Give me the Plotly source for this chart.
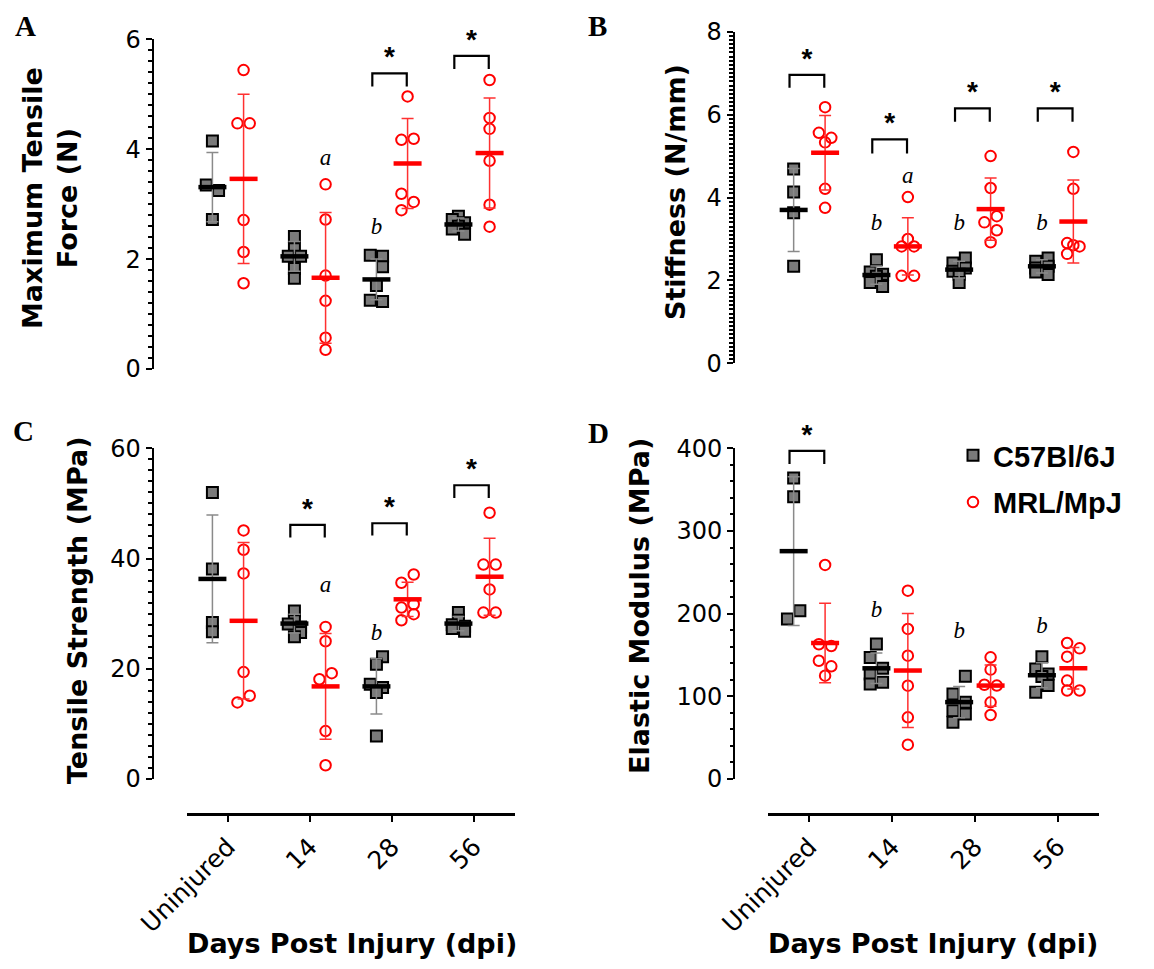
import plotly.graph_objects as go

W, H = 1154, 969          # target picture size (px)
PAGE_PAD = 8              # default HTML body margin

CATS = ["Uninjured", "14", "28", "56"]

# ---------------- Panel A: Maximum Tensile Force (N) ----------------
A_c57 = [[4.15, 3.35, 3.25, 2.72], [2.41, 2.19, 2.05, 2.05, 1.83, 1.65],
         [2.07, 2.05, 1.86, 1.52, 1.25, 1.23], [2.78, 2.72, 2.66, 2.60, 2.55, 2.45]]
A_c57_j = [[0, -1, 1, 0], [0, 0, -1, 1, 0, 0], [-1, 1, 1, 0, -1, 1], [0, -1, 1, 0, -1, 1]]
A_c57_mean = [3.31, 2.05, 1.63, 2.63]
A_c57_sd = [0.63, 0.27, 0.37, 0.12]
A_mrl = [[5.44, 4.47, 4.47, 2.71, 2.13, 1.56], [3.36, 2.72, 1.70, 1.24, 0.57, 0.35],
         [4.96, 4.17, 4.19, 3.19, 3.04, 2.89], [5.26, 4.57, 4.37, 3.79, 2.99, 2.59]]
A_mrl_j = [[0, -1, 1, 0, 0, 0], [0, 0, 0, 0, 0, 0], [0, -1, 1, -1, 1, -1], [0, 0, 0, 0, 0, 0]]
A_mrl_mean = [3.46, 1.66, 3.74, 3.93]
A_mrl_sd = [1.54, 1.19, 0.82, 1.00]
A_brk_cat = [2, 3]
A_brk_top = [5.38, 5.70]
A_brk_leg = [5.14, 5.46]
A_a_cat, A_a_y = [1], [3.81]
A_b_cat, A_b_y = [2], [2.57]

# ---------------- Panel B: Stiffness (N/mm) ----------------
B_c57 = [[4.69, 4.13, 3.63, 2.34], [2.50, 2.20, 2.15, 2.10, 1.95, 1.85],
         [2.54, 2.42, 2.30, 2.22, 2.15, 1.95], [2.54, 2.46, 2.34, 2.30, 2.20, 2.14]]
B_c57_j = [[0, 0, 0, 0], [0, -1, 1, 0, -1, 1], [1, -1, 1, -1, 0, 0], [1, -1, 1, -1, -1, 1]]
B_c57_mean = [3.70, 2.13, 2.26, 2.34]
B_c57_sd = [1.00, 0.22, 0.20, 0.16]
B_mrl = [[6.18, 5.56, 5.44, 5.33, 4.21, 3.75], [4.01, 3.00, 2.82, 2.82, 2.11, 2.11],
         [5.00, 4.23, 3.55, 3.40, 3.21, 2.92], [5.10, 4.21, 2.90, 2.85, 2.82, 2.64]]
B_mrl_j = [[0, -1, 1, 0, 0, 0], [0, 0, -1, 1, -1, 1], [0, 0, 1, -1, 1, 0], [0, 0, -1, 0, 1, -1]]
B_mrl_mean = [5.08, 2.82, 3.72, 3.42]
B_mrl_sd = [0.90, 0.69, 0.75, 1.00]
B_brk_cat = [0, 1, 2, 3]
B_brk_top = [6.96, 5.40, 6.15, 6.15]
B_brk_leg = [6.65, 5.06, 5.83, 5.83]
B_a_cat, B_a_y = [1], [4.50]
B_b_cat, B_b_y = [1, 2, 3], [3.36, 3.36, 3.36]

# ---------------- Panel C: Tensile Strength (MPa) ----------------
C_c57 = [[52.0, 38.1, 28.4, 26.7], [30.5, 28.7, 28.1, 27.6, 26.6, 25.8],
         [22.2, 20.8, 17.2, 16.6, 15.7, 7.8], [30.2, 28.8, 28.0, 27.7, 27.3, 26.8]]
C_c57_j = [[0, 0, 0, 0], [0, 0, -1, 1, 1, 0], [1, 0, -1, 1, 0, 0], [0, 0, -1, 1, -1, 1]]
C_c57_mean = [36.3, 28.2, 16.8, 28.2]
C_c57_sd = [11.6, 1.7, 5.0, 1.3]
C_mrl = [[45.1, 41.6, 37.3, 19.4, 15.1, 13.9], [27.6, 25.0, 19.2, 18.1, 8.7, 2.5],
         [37.1, 35.6, 31.7, 31.1, 29.9, 28.8], [48.3, 38.9, 38.9, 34.4, 30.2, 30.2]]
C_mrl_j = [[0, 0, 0, 0, 1, -1], [0, 0, 1, -1, 0, 0], [1, -1, 1, -1, 1, -1], [0, -1, 1, 0, -1, 1]]
C_mrl_mean = [28.7, 16.8, 32.6, 36.7]
C_mrl_sd = [14.2, 9.6, 3.1, 7.0]
C_brk_cat = [1, 2, 3]
C_brk_top = [46.1, 46.4, 53.3]
C_brk_leg = [43.8, 44.2, 51.0]
C_a_cat, C_a_y = [1], [34.9]
C_b_cat, C_b_y = [2], [26.2]

# ---------------- Panel D: Elastic Modulus (MPa) ----------------
D_c57 = [[364.0, 341.5, 203.6, 193.5], [163.3, 147.0, 134.0, 127.0, 117.0, 115.0],
         [124.2, 102.8, 92.7, 82.7, 78.6, 68.5], [148.0, 133.0, 127.0, 124.0, 113.0, 105.0]]
D_c57_j = [[0, 0, 1, -1], [0, -1, 1, -1, 1, -1], [1, -1, 1, -1, 1, -1], [0, -1, 1, 0, 1, -1]]
D_c57_mean = [275.6, 133.9, 93.0, 125.5]
D_c57_sd = [90.0, 18.5, 19.0, 15.0]
D_mrl = [[258.9, 163.0, 160.8, 143.0, 136.3, 125.0], [227.8, 181.5, 149.2, 112.9, 74.6, 41.5],
         [147.2, 132.3, 114.0, 113.0, 92.7, 77.4], [164.5, 158.0, 148.0, 119.0, 107.0, 107.0]]
D_mrl_j = [[0, -1, 1, -1, 1, 0], [0, 0, 0, 0, 0, 0], [0, 0, -1, 1, 0, 0], [-1, 1, -1, -1, -1, 1]]
D_mrl_mean = [164.5, 131.2, 113.0, 134.0]
D_mrl_sd = [48.0, 69.0, 25.0, 25.0]
D_brk_cat = [0]
D_brk_top = [397.0]
D_brk_leg = [381.0]
D_a_cat, D_a_y = [], []
D_b_cat, D_b_y = [1, 2, 3], [202.8, 177.4, 183.5]

# ---------------- styling / layout constants ----------------
OFF = 0.19      # group offset from category center
JIT = 0.075     # jitter step
GREY = "#7a7a7a"
RED = "#ff0000"
NUM_FONT = "DejaVu Sans"
BOLD_FONT = "DejaVu Sans"

FW, FH = W - 2 * PAGE_PAD, H - 2 * PAGE_PAD


def px(v):
    return (v - PAGE_PAD) / FW


def py(v):
    return 1 - (v - PAGE_PAD) / FH


panels = [
    dict(key="A", ax="", c57=A_c57, c57j=A_c57_j, c57m=A_c57_mean, c57s=A_c57_sd,
         mrl=A_mrl, mrlj=A_mrl_j, mrlm=A_mrl_mean, mrls=A_mrl_sd,
         bc=A_brk_cat, bt=A_brk_top, bl=A_brk_leg, ac=A_a_cat, ay=A_a_y, bcc=A_b_cat, by=A_b_y,
         xdom=(187, 515), ydom=(369.0, 39.3), yline=152.7, ymax=6, dtick=2, minor=0.2, showx=False),
    dict(key="B", ax="2", c57=B_c57, c57j=B_c57_j, c57m=B_c57_mean, c57s=B_c57_sd,
         mrl=B_mrl, mrlj=B_mrl_j, mrlm=B_mrl_mean, mrls=B_mrl_sd,
         bc=B_brk_cat, bt=B_brk_top, bl=B_brk_leg, ac=B_a_cat, ay=B_a_y, bcc=B_b_cat, by=B_b_y,
         xdom=(768, 1099), ydom=(363.3, 31.7), yline=733.5, ymax=8, dtick=2, minor=0.1, showx=False),
    dict(key="C", ax="3", c57=C_c57, c57j=C_c57_j, c57m=C_c57_mean, c57s=C_c57_sd,
         mrl=C_mrl, mrlj=C_mrl_j, mrlm=C_mrl_mean, mrls=C_mrl_sd,
         bc=C_brk_cat, bt=C_brk_top, bl=C_brk_leg, ac=C_a_cat, ay=C_a_y, bcc=C_b_cat, by=C_b_y,
         xdom=(187, 515), ydom=(779.0, 448.3), yline=152.7, ymax=60, dtick=20, minor=2, showx=True),
    dict(key="D", ax="4", c57=D_c57, c57j=D_c57_j, c57m=D_c57_mean, c57s=D_c57_sd,
         mrl=D_mrl, mrlj=D_mrl_j, mrlm=D_mrl_mean, mrls=D_mrl_sd,
         bc=D_brk_cat, bt=D_brk_top, bl=D_brk_leg, ac=D_a_cat, ay=D_a_y, bcc=D_b_cat, by=D_b_y,
         xdom=(768, 1099), ydom=(779.0, 448.3), yline=734.0, ymax=400, dtick=100, minor=20, showx=True),
]

fig = go.Figure()
layout = dict(template="none", width=FW, height=FH,
              margin=dict(l=0, r=0, t=0, b=0, pad=0, autoexpand=False),
              paper_bgcolor="white", plot_bgcolor="white", showlegend=True)

for p in panels:
    xa, ya = "x" + p["ax"], "y" + p["ax"]
    # points
    for vals, jit, sign, name, is_c57 in [(p["c57"], p["c57j"], -1, "C57Bl/6J", True),
                                          (p["mrl"], p["mrlj"], 1, "MRL/MpJ", False)]:
        xs, ys = [], []
        for ci, (grp, jg) in enumerate(zip(vals, jit)):
            for v, j in zip(grp, jg):
                xs.append(ci + sign * OFF + j * JIT)
                ys.append(v)
        if is_c57:
            marker = dict(symbol="square", size=11, color=GREY, line=dict(color="black", width=2))
        else:
            marker = dict(symbol="circle-open", size=10.5, color=RED, line=dict(width=2))
        fig.add_trace(go.Scatter(x=xs, y=ys, mode="markers", marker=marker, name=name,
                                 legendgroup=name, showlegend=(p["key"] == "D"),
                                 xaxis=xa, yaxis=ya, cliponaxis=False))
    # mean + SD
    for means, sds, sign, lc, ec in [(p["c57m"], p["c57s"], -1, "black", "#8a8a8a"),
                                     (p["mrlm"], p["mrls"], 1, RED, "#ff3030")]:
        fig.add_trace(go.Scatter(
            x=[ci + sign * OFF for ci in range(len(means))], y=means, mode="markers",
            marker=dict(symbol="line-ew", size=20, line=dict(color=lc, width=4.5)),
            error_y=dict(type="data", array=sds, visible=True, color=ec, thickness=1.5, width=6),
            showlegend=False, xaxis=xa, yaxis=ya, cliponaxis=False, hoverinfo="skip"))
    # significance brackets
    bx, byy = [], []
    for c, t, l in zip(p["bc"], p["bt"], p["bl"]):
        bx += [c - 0.24, c - 0.24, c + 0.18, c + 0.18, None]
        byy += [l, t, t, l, None]
    if bx:
        fig.add_trace(go.Scatter(x=bx, y=byy, mode="lines", line=dict(color="black", width=2.2),
                                 showlegend=False, xaxis=xa, yaxis=ya, hoverinfo="skip"))
        fig.add_trace(go.Scatter(x=[c - 0.03 for c in p["bc"]], y=p["bt"], mode="text",
                                 text=["*"] * len(p["bc"]), textposition="top center",
                                 textfont=dict(family="Liberation Sans", size=28, color="black",
                                               weight="bold"),
                                 showlegend=False, xaxis=xa, yaxis=ya, cliponaxis=False,
                                 hoverinfo="skip"))
    # letters a / b
    for cats, ys, letter, sign in [(p["ac"], p["ay"], "a", 1), (p["bcc"], p["by"], "b", -1)]:
        if cats:
            fig.add_trace(go.Scatter(x=[c + sign * OFF for c in cats], y=ys, mode="text",
                                     text=[letter] * len(cats), textposition="middle center",
                                     textfont=dict(family="Liberation Serif", size=23,
                                                   color="black", style="italic"),
                                     showlegend=False, xaxis=xa, yaxis=ya, cliponaxis=False,
                                     hoverinfo="skip"))

    xkey = "xaxis" + p["ax"]
    ykey = "yaxis" + p["ax"]
    layout[xkey] = dict(
        domain=[px(p["xdom"][0]), px(p["xdom"][1])], range=[-0.5, 3.5], automargin=False,
        anchor="free", position=py(813.5), visible=p["showx"],
        tickmode="array", tickvals=list(range(len(CATS))), ticktext=CATS,
        showline=True, linecolor="black", linewidth=2.5, ticks="outside", ticklen=7,
        tickwidth=2, tickcolor="black", tickangle=-45, showgrid=False, zeroline=False,
        tickfont=dict(family=NUM_FONT, size=25, color="black"), fixedrange=True)
    layout[ykey] = dict(
        domain=[py(p["ydom"][0]), py(p["ydom"][1])], range=[0, p["ymax"]], automargin=False,
        anchor="free", position=px(p["yline"]),
        tickmode="linear", tick0=0, dtick=p["dtick"],
        showline=True, linecolor="black", linewidth=2, ticks="outside", ticklen=6,
        tickwidth=2, tickcolor="black", showgrid=False, zeroline=False,
        minor=dict(dtick=p["minor"], ticks="outside", ticklen=3.5, tickwidth=1.5,
                   tickcolor="black", showgrid=False),
        tickfont=dict(family=NUM_FONT, size=24, color="black"), fixedrange=True)

fig.update_layout(**layout)

# axis titles, panel letters (as annotations)
TITLES = [("Maximum Tensile<br>Force (N)", 50, 198), ("Stiffness (N/mm)", 676, 192),
          ("Tensile Strength (MPa)", 77, 610), ("Elastic Modulus (MPa)", 639, 606)]
for txt, x, y in TITLES:
    fig.add_annotation(text=txt, x=px(x), y=py(y), xref="paper", yref="paper",
                       textangle=-90, showarrow=False, xanchor="center", yanchor="middle",
                       font=dict(family=BOLD_FONT, size=27, color="black", weight="bold"))
for x in (352, 933):
    fig.add_annotation(text="Days Post Injury (dpi)", x=px(x), y=py(943), xref="paper",
                       yref="paper", showarrow=False, xanchor="center", yanchor="middle",
                       font=dict(family=BOLD_FONT, size=27, color="black", weight="bold"))
for letter, x, y in [("A", 25, 26), ("B", 597, 26), ("C", 24, 431), ("D", 598, 433)]:
    fig.add_annotation(text=letter, x=px(x), y=py(y), xref="paper", yref="paper",
                       showarrow=False, xanchor="center", yanchor="middle",
                       font=dict(family="Liberation Serif", size=29, color="black", weight="bold"))

fig.update_layout(legend=dict(x=px(953), y=py(430), xanchor="left", yanchor="top",
                              font=dict(family="Liberation Sans", size=29, color="black",
                                        weight="bold"),
                              bgcolor="rgba(0,0,0,0)", tracegroupgap=6, itemclick=False))

fig.write_html("out.html")
